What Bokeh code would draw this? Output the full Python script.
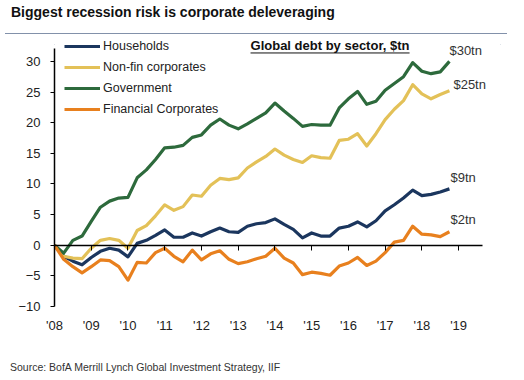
from bokeh.plotting import figure
from bokeh.models import (Range1d, LinearAxis, FixedTicker, Legend, LegendItem, Label, Div)
from bokeh.layouts import column
from bokeh.embed import file_html
from bokeh.resources import INLINE

FONT = "Liberation Sans"

# quarterly observations, Q1 2008 .. Q4 2018 (change in debt since 2008, $tn)
quarters = [2008 + q / 4 for q in range(44)]

households = [0, -1.8, -2.6, -3.2, -2.0, -1.0, -0.5, -0.8, -1.9, 0.3, 0.8, 1.6,
              2.5, 1.3, 1.3, 2.0, 1.5, 2.2, 2.8, 2.2, 2.1, 3.1, 3.5, 3.7,
              4.3, 3.4, 2.6, 1.2, 2.0, 1.5, 1.5, 2.8, 3.1, 3.8, 3.0, 4.0,
              5.6, 6.6, 7.7, 9.0, 8.1, 8.3, 8.7, 9.2]
nonfin = [0, -1.8, -2.1, -2.2, -0.5, 0.8, 1.1, 0.8, -0.5, 2.4, 3.2, 4.8,
          6.6, 5.7, 6.3, 8.2, 8.0, 9.8, 10.9, 10.7, 11.0, 12.6, 13.6, 14.5,
          15.7, 14.7, 14.0, 13.5, 14.6, 14.3, 14.2, 17.1, 17.3, 18.2, 16.2, 18.2,
          20.5, 22.2, 23.6, 26.2, 24.7, 23.9, 24.6, 25.2]
government = [0, -1.3, 0.8, 1.5, 3.9, 6.2, 7.2, 7.7, 7.8, 11.0, 12.3, 14.0,
              15.9, 16.0, 16.3, 17.6, 18.0, 19.6, 20.6, 19.6, 19.0, 19.8, 20.7, 21.6,
              23.2, 21.9, 20.7, 19.4, 19.7, 19.6, 19.6, 22.4, 23.9, 25.1, 23.0, 23.5,
              25.3, 26.4, 27.5, 29.8, 28.4, 28.0, 28.3, 30.0]
financial = [0, -2.3, -3.5, -4.5, -3.5, -2.4, -2.5, -3.5, -5.7, -2.8, -2.9, -1.2,
             -0.5, -1.8, -2.7, -0.8, -2.4, -1.4, -0.9, -2.3, -3.0, -2.7, -2.2, -1.8,
             -0.5, -2.1, -2.9, -4.8, -4.4, -4.6, -4.9, -3.4, -2.9, -2.0, -3.3, -2.6,
             -1.2, 0.5, 0.8, 3.1, 1.8, 1.7, 1.4, 2.2]

series_names = ["Households", "Non-fin corporates", "Government", "Financial Corporates"]
end_labels = ["$9tn", "$25tn", "$30tn", "$2tn"]
year_ticks = list(range(2008, 2020))
year_labels = ["'08", "'09", "'10", "'11", "'12", "'13", "'14", "'15", "'16", "'17", "'18", "'19"]
y_ticks = [-10, -5, 0, 5, 10, 15, 20, 25, 30]

title_text = "Biggest recession risk is corporate deleveraging"
subtitle_text = "Global debt by sector, $tn"
source_text = "Source: BofA Merrill Lynch Global Investment Strategy, IIF"

colors = ["#1B365E", "#E3C158", "#2D6A3C", "#E8801E"]

title_div = Div(
    text=(f"<div style=\"padding:4px 0 0 11px; font-family:'{FONT}'; font-weight:bold; "
          f"font-size:14px; line-height:16px; color:#111; white-space:nowrap;\">{title_text}</div>"),
    width=524, height=33, margin=(0, 0, 0, 0))

rule_div = Div(text="<div style=\"width:502px; height:1px; background:#8291AA;\"></div>",
               width=502, height=1, margin=(0, 0, 0, 5),
               styles={"background-color": "#8291AA"})

p = figure(width=524, height=318, x_range=Range1d(2008, 2020.14), y_range=Range1d(-10, 34.23),
           output_backend="svg", toolbar_location=None, x_axis_type=None, title=None,
           min_border_left=54, min_border_right=24, min_border_top=1, min_border_bottom=46)
p.outline_line_color = None
p.grid.visible = False
p.background_fill_color = "white"

# tick label axis at bottom
label_axis = LinearAxis(ticker=FixedTicker(ticks=year_ticks),
                        major_label_overrides=dict(zip(year_ticks, year_labels)),
                        axis_line_color=None, major_tick_line_color=None,
                        minor_tick_line_color=None, major_tick_out=0, major_tick_in=0,
                        major_label_standoff=11, major_label_text_font=FONT,
                        major_label_text_font_size="13px", major_label_text_color="#222222")
p.add_layout(label_axis, "below")

# zero line axis with ticks (no labels)
zero_axis = LinearAxis(ticker=FixedTicker(ticks=year_ticks), fixed_location=0,
                       bounds=(2008, 2019.65),
                       axis_line_color="black", axis_line_width=1.5,
                       major_tick_line_color="black", major_tick_out=5, major_tick_in=0,
                       minor_tick_line_color=None, major_label_text_font_size="1px",
                       major_label_text_color=None, major_label_standoff=0)
p.add_layout(zero_axis, "below")

yax = p.yaxis[0]
yax.ticker = FixedTicker(ticks=y_ticks)
yax.bounds = (-10, 32.1)
yax.axis_line_color = "black"
yax.axis_line_width = 1.5
yax.major_tick_line_color = "black"
yax.major_tick_out = 4
yax.major_tick_in = 0
yax.minor_tick_line_color = None
yax.major_label_standoff = 10
yax.major_label_text_font = FONT
yax.major_label_text_font_size = "13px"
yax.major_label_text_color = "#222222"

all_series = [households, nonfin, government, financial]
renderers = []
for name, ys, c in zip(series_names, all_series, colors):
    r = p.line(quarters, ys, line_color=c, line_width=3.2, line_join="round")
    renderers.append(r)

legend = Legend(items=[LegendItem(label=n, renderers=[r]) for n, r in zip(series_names, renderers)],
                location=(10, 187), orientation="vertical", glyph_width=36, glyph_height=20,
                label_height=20, label_standoff=3, spacing=1, padding=0, margin=0,
                border_line_color=None, background_fill_alpha=0,
                label_text_font=FONT, label_text_font_size="12.5px", label_text_color="#222222")
p.add_layout(legend)

# end-of-line value labels
end_offsets = [(1, 11), (4, 6), (0, 11), (1, 12)]
for txt, ys, (dx, dy) in zip(end_labels, all_series, end_offsets):
    p.add_layout(Label(x=quarters[-1], y=ys[-1], text=txt, x_offset=dx, y_offset=dy,
                       text_font=FONT, text_font_size="13px", text_color="#333333",
                       text_baseline="middle", text_align="left"))

# chart subtitle (underlined)
sub_x, sub_y = 2013.336, 32.56
p.add_layout(Label(x=sub_x, y=sub_y, text=subtitle_text, text_font=FONT, text_font_size="13px",
                   text_font_style="bold", text_color="#111111", text_baseline="middle",
                   text_align="left"))
p.segment(x0=[sub_x], y0=[31.38], x1=[2017.665], y1=[31.38], line_color="#111111", line_width=1)

source_div = Div(
    text=(f"<div style=\"padding:8px 0 0 10px; font-family:'{FONT}'; font-size:10.5px; "
          f"line-height:14px; color:#333; white-space:nowrap;\">{source_text}</div>"),
    width=524, height=28, margin=(0, 0, 0, 0))

layout = column(title_div, rule_div, p, source_div, spacing=0)
open("out.html", "w").write(file_html(layout, INLINE))
